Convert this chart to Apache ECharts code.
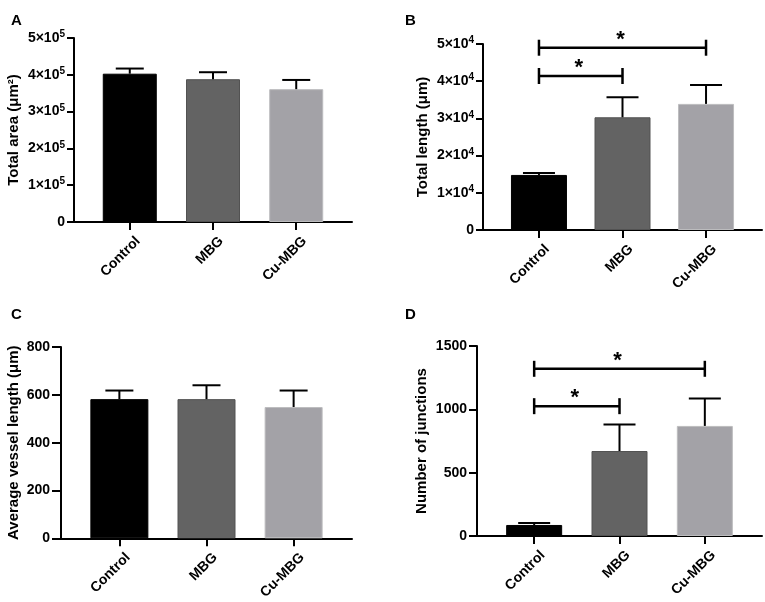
<!DOCTYPE html>
<html>
<head>
<meta charset="utf-8">
<title>Vessel network analysis</title>
<script src="https://cdn.jsdelivr.net/npm/echarts@6/dist/echarts.min.js"></script>
<style>
    html, body { margin: 0; padding: 0; background: #fff; }
    #chart { width: 765px; height: 602px; }
</style>
</head>
<body>
<div id="chart"></div>
<script>
    var groups = ['Control', 'MBG', 'Cu-MBG'];
    var groupColors = ['#000000', '#636363', '#a3a2a7'];
    var groupBorders = ['#000000', '#525252', '#bcbcbe'];

    // A - total area (um^2): mean and top of error bar
    var areaMean = [4.03e5, 3.88e5, 3.61e5];
    var areaUpper = [4.17e5, 4.07e5, 3.86e5];
    // B - total length (um)
    var lengthMean = [1.48e4, 3.03e4, 3.39e4];
    var lengthUpper = [1.53e4, 3.57e4, 3.90e4];
    // C - average vessel length (um)
    var vesselMean = [582, 582, 549];
    var vesselUpper = [618, 640, 618];
    // D - number of junctions
    var junctionMean = [87, 671, 869];
    var junctionUpper = [103, 880, 1085];
    // significance brackets: [from group, to group, height]
    var lengthSig = [[1, 2, 4.14e4], [1, 3, 4.9e4]];
    var junctionSig = [[1, 2, 1025], [1, 3, 1320]];

    var font = "'Liberation Sans', Arial, sans-serif";
    var chart = echarts.init(document.getElementById('chart'));

    function sciLabel(exp) {
        return function (v) {
            if (v === 0) return '0';
            return '{b|' + Math.round(v / Math.pow(10, exp)) + '×10}{s|' + exp + '}';
        };
    }

    var panels = [
        {letter: 'A', name: 'Total area (μm²)', mean: areaMean, upper: areaUpper, max: 5e5, step: 1e5,
            fmt: sciLabel(5), grid: {left: 74, width: 278, top: 38, height: 184}, barWidth: 54, cap: 14, nameGap: 53, tick: 7, margin: 9},
        {letter: 'B', name: 'Total length (μm)', mean: lengthMean, upper: lengthUpper, max: 5e4, step: 1e4,
            fmt: sciLabel(4), grid: {left: 483, width: 279, top: 44, height: 186}, barWidth: 56, cap: 16, nameGap: 53, tick: 7, margin: 9, sig: lengthSig},
        {letter: 'C', name: 'Average vessel length (μm)', mean: vesselMean, upper: vesselUpper, max: 800, step: 200,
            fmt: null, grid: {left: 61, width: 291, top: 347, height: 193}, barWidth: 58, cap: 14, nameGap: 40, tick: 9, margin: 11},
        {letter: 'D', name: 'Number of junctions', mean: junctionMean, upper: junctionUpper, max: 1500, step: 500,
            fmt: null, grid: {left: 477, width: 285, top: 346, height: 190}, barWidth: 56, cap: 16, nameGap: 48, tick: 8, margin: 10, sig: junctionSig}
    ];
    var letterPos = [[6, 8], [400, 8], [6, 302], [400, 302]];
    // category labels sit a little right of their tick, as in the original figure
    var labelNudge = 0.1;

    var option = {
        animation: false,
        backgroundColor: '#fff',
        textStyle: {fontFamily: font},
        title: [], grid: [], xAxis: [], yAxis: [], series: []
    };

    panels.forEach(function (p, i) {
        option.title.push({
            text: p.letter, left: letterPos[i][0], top: letterPos[i][1],
            textStyle: {fontFamily: font, fontWeight: 'bold', fontSize: 15, color: '#000'}
        });
        option.grid.push(p.grid);
        option.xAxis.push({
            type: 'value', gridIndex: i, min: 0.33, max: 3.67,
            splitLine: {show: false},
            axisLine: {lineStyle: {color: '#000', width: 2}},
            axisTick: {show: true, length: 8, lineStyle: {color: '#000', width: 2}, customValues: [1, 2, 3]},
            axisLabel: {
                customValues: [1 + labelNudge, 2 + labelNudge, 3 + labelNudge], rotate: 45, margin: 17,
                fontFamily: font, fontWeight: 'bold', fontSize: 14, color: '#000',
                formatter: function (v) { return groups[Math.round(v) - 1] || ''; }
            }
        });
        option.yAxis.push({
            type: 'value', gridIndex: i, min: 0, max: p.max, interval: p.step,
            name: p.name, nameLocation: 'middle', nameRotate: 90, nameGap: p.nameGap,
            nameTextStyle: {fontFamily: font, fontWeight: 'bold', fontSize: 15, color: '#000'},
            splitLine: {show: false},
            axisLine: {show: true, lineStyle: {color: '#000', width: 2}},
            axisTick: {show: true, length: p.tick, lineStyle: {color: '#000', width: 2}},
            axisLabel: {
                margin: p.margin, fontFamily: font, fontWeight: 'bold', fontSize: 14, color: '#000',
                formatter: p.fmt || function (v) { return String(v); },
                rich: {
                    b: {fontFamily: font, fontWeight: 'bold', fontSize: 14, color: '#000', lineHeight: 17},
                    s: {fontFamily: font, fontWeight: 'bold', fontSize: 10, color: '#000', lineHeight: 17, verticalAlign: 'top'}
                }
            }
        });

        option.series.push({
            type: 'bar', xAxisIndex: i, yAxisIndex: i, barWidth: p.barWidth,
            data: p.mean.map(function (v, k) {
                return {value: [k + 1, v], itemStyle: {color: groupColors[k], borderColor: groupBorders[k], borderWidth: 1}};
            })
        });
        option.series.push({
            type: 'custom', xAxisIndex: i, yAxisIndex: i, z: 3,
            data: p.mean.map(function (v, k) { return [k + 1, v, p.upper[k]]; }),
            renderItem: function (params, api) {
                var base = api.coord([api.value(0), api.value(1)]);
                var top = api.coord([api.value(0), api.value(2)]);
                var st = {stroke: '#000', lineWidth: 2};
                return {type: 'group', children: [
                    {type: 'line', shape: {x1: base[0], y1: base[1], x2: top[0], y2: top[1]}, style: st},
                    {type: 'line', shape: {x1: top[0] - p.cap, y1: top[1], x2: top[0] + p.cap, y2: top[1]}, style: st}
                ]};
            }
        });
        if (p.sig) {
            option.series.push({
                type: 'custom', xAxisIndex: i, yAxisIndex: i, z: 4, clip: false,
                data: p.sig,
                renderItem: function (params, api) {
                    var a = api.coord([api.value(0), api.value(2)]);
                    var b = api.coord([api.value(1), api.value(2)]);
                    var st = {stroke: '#000', lineWidth: 2.5};
                    return {type: 'group', children: [
                        {type: 'line', shape: {x1: a[0], y1: a[1], x2: b[0], y2: b[1]}, style: st},
                        {type: 'line', shape: {x1: a[0], y1: a[1] - 8, x2: a[0], y2: a[1] + 8}, style: st},
                        {type: 'line', shape: {x1: b[0], y1: b[1] - 8, x2: b[0], y2: b[1] + 8}, style: st},
                        {type: 'text', style: {
                            text: '*', x: (a[0] + b[0]) / 2 - 2, y: a[1] + 3,
                            align: 'center', verticalAlign: 'bottom',
                            font: 'bold 22px ' + font, fill: '#000'
                        }}
                    ]};
                }
            });
        }
    });

    chart.setOption(option);
</script>
</body>
</html>
